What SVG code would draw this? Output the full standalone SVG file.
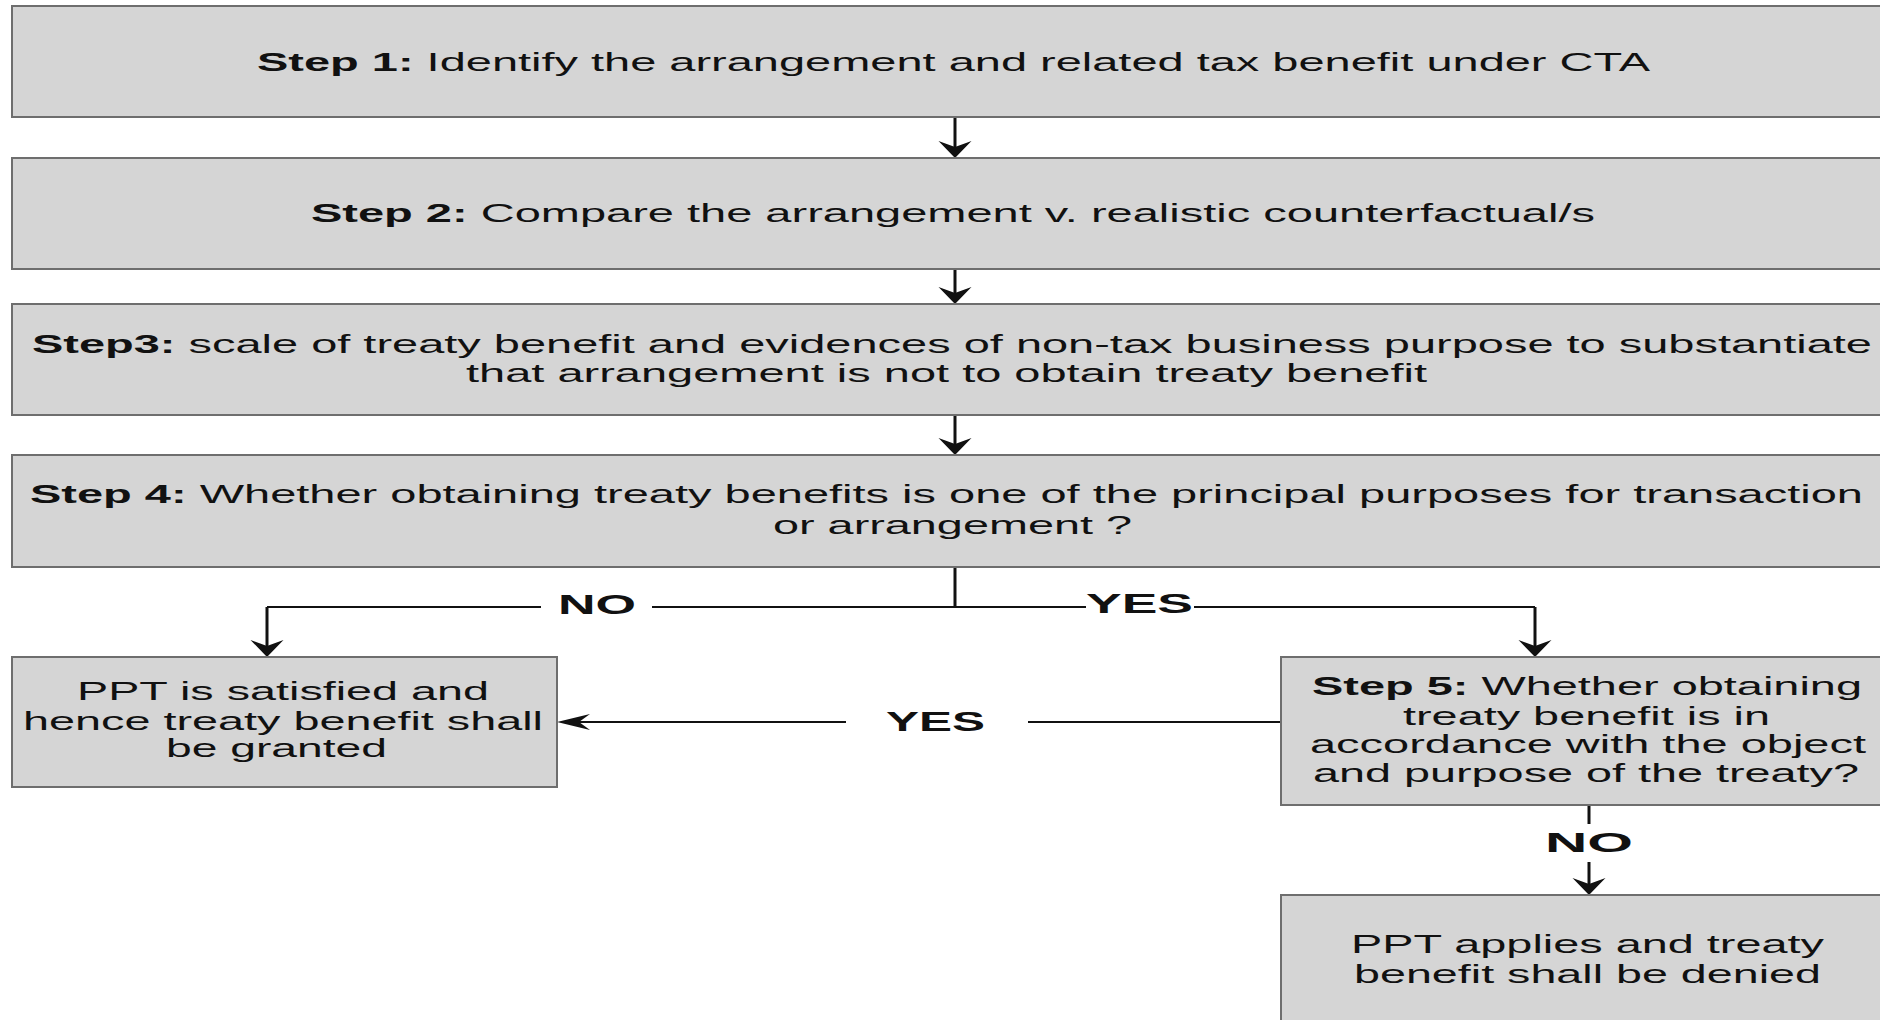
<svg xmlns="http://www.w3.org/2000/svg" width="1880" height="1020" viewBox="0 0 1880 1020">
  <style>
    .box { fill: #d5d5d5; stroke: #6e6e6e; stroke-width: 2; }
    .t { font-family: "Liberation Sans", Arial, sans-serif; font-size: 25px; fill: #111; }
    .b { font-weight: bold; }
    .lbl { font-family: "Liberation Sans", Arial, sans-serif; font-size: 28px; font-weight: bold; fill: #111; }
    .h { fill: none; stroke: #111; stroke-width: 2; }
    .v { fill: none; stroke: #111; stroke-width: 3; }
    .bg { fill: #ffffff; }
  </style>
  <defs>
    <marker id="arrowV" markerUnits="userSpaceOnUse" orient="auto" markerWidth="60" markerHeight="60" viewBox="-30 -30 60 60" refX="0" refY="0" overflow="visible">
      <path d="M-9,-16.5 L8,0 L-9,16.5 L-3,0 Z" fill="#111"/>
    </marker>
    <marker id="arrowH" markerUnits="userSpaceOnUse" orient="auto" markerWidth="60" markerHeight="60" viewBox="-30 -30 60 60" refX="0" refY="0" overflow="visible">
      <path d="M-25,-8 L8,0 L-25,8 L-14,0 Z" fill="#111"/>
    </marker>
  </defs>
  <rect width="1880" height="1020" fill="#ffffff"/>

  <g id="connectors">
    <path class="v" d="M955,117 V150" marker-end="url(#arrowV)"/>
    <path class="v" d="M955,269 V296" marker-end="url(#arrowV)"/>
    <path class="v" d="M955,415 V447" marker-end="url(#arrowV)"/>
    <path class="v" d="M955,567 V607"/>
    <path class="h" d="M955,607 H267"/>
    <path class="v" d="M267,607 V649" marker-end="url(#arrowV)"/>
    <path class="h" d="M955,607 H1535"/>
    <path class="v" d="M1535,607 V649" marker-end="url(#arrowV)"/>
    <path class="h" d="M1281,722 H565" marker-end="url(#arrowH)"/>
    <path class="v" d="M1589,805 V887" marker-end="url(#arrowV)"/>
    <g id="labels">
      <rect class="bg" x="541" y="590" width="111" height="30"/>
      <text class="lbl" x="558" y="614" textLength="78" lengthAdjust="spacingAndGlyphs">NO</text>
      <rect class="bg" x="1086" y="590" width="108" height="30"/>
      <text class="lbl" x="1086" y="613" textLength="107" lengthAdjust="spacingAndGlyphs">YES</text>
      <rect class="bg" x="846" y="705" width="182" height="34"/>
      <text class="lbl" x="886" y="731" textLength="99" lengthAdjust="spacingAndGlyphs">YES</text>
      <rect class="bg" x="1540" y="824" width="100" height="38"/>
      <text class="lbl" x="1545" y="852" textLength="88" lengthAdjust="spacingAndGlyphs">NO</text>
    </g>
  </g>

  <g id="step1">
    <rect class="box" x="12" y="6" width="1882" height="111"/>
    <text class="t" x="257" y="71" textLength="1393" lengthAdjust="spacingAndGlyphs"><tspan class="b">Step 1:</tspan> Identify the arrangement and related tax benefit under CTA</text>
  </g>
  <g id="step2">
    <rect class="box" x="12" y="158" width="1882" height="111"/>
    <text class="t" x="311" y="222" textLength="1284" lengthAdjust="spacingAndGlyphs"><tspan class="b">Step 2:</tspan> Compare the arrangement v. realistic counterfactual/s</text>
  </g>
  <g id="step3">
    <rect class="box" x="12" y="304" width="1882" height="111"/>
    <text class="t" x="32" y="353" textLength="1840" lengthAdjust="spacingAndGlyphs"><tspan class="b">Step3:</tspan> scale of treaty benefit and evidences of non-tax business purpose to substantiate</text>
    <text class="t" x="466" y="382" textLength="961" lengthAdjust="spacingAndGlyphs">that arrangement is not to obtain treaty benefit</text>
  </g>
  <g id="step4">
    <rect class="box" x="12" y="455" width="1882" height="112"/>
    <text class="t" x="30" y="503" textLength="1833" lengthAdjust="spacingAndGlyphs"><tspan class="b">Step 4:</tspan> Whether obtaining treaty benefits is one of the principal purposes for transaction</text>
    <text class="t" x="773" y="534" textLength="359" lengthAdjust="spacingAndGlyphs">or arrangement ?</text>
  </g>
  <g id="granted">
    <rect class="box" x="12" y="657" width="545" height="130"/>
    <text class="t" x="77" y="700" textLength="412" lengthAdjust="spacingAndGlyphs">PPT is satisfied and</text>
    <text class="t" x="23" y="730" textLength="520" lengthAdjust="spacingAndGlyphs">hence treaty benefit shall</text>
    <text class="t" x="166" y="757" textLength="221" lengthAdjust="spacingAndGlyphs">be granted</text>
  </g>
  <g id="step5">
    <rect class="box" x="1281" y="657" width="612" height="148"/>
    <text class="t" x="1312" y="695" textLength="550" lengthAdjust="spacingAndGlyphs"><tspan class="b">Step 5:</tspan> Whether obtaining</text>
    <text class="t" x="1403" y="725" textLength="367" lengthAdjust="spacingAndGlyphs">treaty benefit is in</text>
    <text class="t" x="1310" y="753" textLength="556" lengthAdjust="spacingAndGlyphs">accordance with the object</text>
    <text class="t" x="1313" y="782" textLength="546" lengthAdjust="spacingAndGlyphs">and purpose of the treaty?</text>
  </g>
  <g id="denied">
    <rect class="box" x="1281" y="895" width="612" height="148"/>
    <text class="t" x="1351" y="953" textLength="473" lengthAdjust="spacingAndGlyphs">PPT applies and treaty</text>
    <text class="t" x="1354" y="983" textLength="467" lengthAdjust="spacingAndGlyphs">benefit shall be denied</text>
  </g>
</svg>
